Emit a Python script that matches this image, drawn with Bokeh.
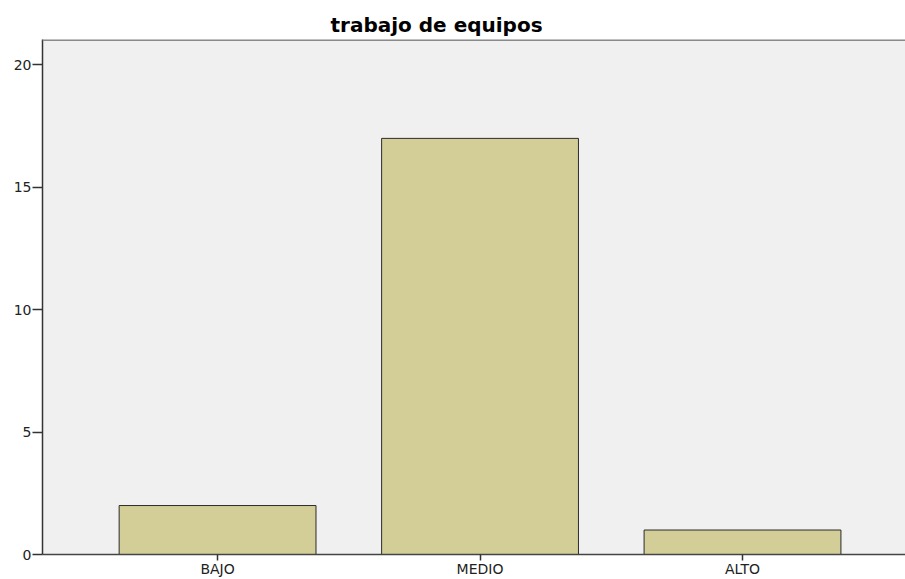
from bokeh.plotting import figure
from bokeh.models import Range1d, FixedTicker, Span
from bokeh.embed import file_html
from bokeh.resources import INLINE

categories = ["BAJO", "MEDIO", "ALTO"]
counts = [2, 17, 1]
y_ticks = [0, 5, 10, 15, 20]

xs = list(range(len(categories)))
y_top = 21.04

p = figure(width=905, height=579, output_backend="svg", toolbar_location=None,
           x_range=Range1d(-0.667, 2.621), y_range=Range1d(0, y_top),
           min_border_left=42, min_border_right=0, min_border_top=39, min_border_bottom=24)

p.title.text = "trabajo de equipos"
p.title.align = "left"
p.title.offset = 288
p.title.text_font = "DejaVu Sans"
p.title.text_font_size = "20px"
p.title.text_font_style = "bold"
p.title.text_color = "#000000"
p.title.standoff = 5

p.background_fill_color = "#f0f0f0"
p.border_fill_color = "#ffffff"
p.outline_line_color = None
p.xgrid.visible = False
p.ygrid.visible = False

p.vbar(x=xs, top=counts, width=0.75, bottom=0, fill_color="#d3ce97",
       line_color="#2b2b2b", line_width=1)

p.add_layout(Span(location=y_top, dimension="width", line_color="#8a8a8a", line_width=3))

p.yaxis.ticker = FixedTicker(ticks=y_ticks)
p.yaxis.minor_tick_line_color = None
p.yaxis.major_tick_out = 10
p.yaxis.major_tick_in = 0
p.yaxis.axis_line_color = "#333333"
p.yaxis.axis_line_width = 1.5
p.yaxis.major_tick_line_color = "#333333"
p.yaxis.major_tick_line_width = 1.5
p.yaxis.major_label_text_font = "DejaVu Sans"
p.yaxis.major_label_text_font_size = "14px"
p.yaxis.major_label_text_color = "#222222"
p.yaxis.major_label_standoff = 1

p.xaxis.ticker = FixedTicker(ticks=xs)
p.xaxis.major_label_overrides = {i: c for i, c in zip(xs, categories)}
p.xaxis.minor_tick_line_color = None
p.xaxis.major_tick_out = 6
p.xaxis.major_tick_in = 0
p.xaxis.axis_line_color = "#444444"
p.xaxis.axis_line_width = 1.5
p.xaxis.major_tick_line_color = "#333333"
p.xaxis.major_tick_line_width = 1.5
p.xaxis.major_label_text_font = "DejaVu Sans"
p.xaxis.major_label_text_font_size = "14px"
p.xaxis.major_label_text_color = "#222222"
p.xaxis.major_label_standoff = 0

open("out.html", "w").write(file_html(p, INLINE))
